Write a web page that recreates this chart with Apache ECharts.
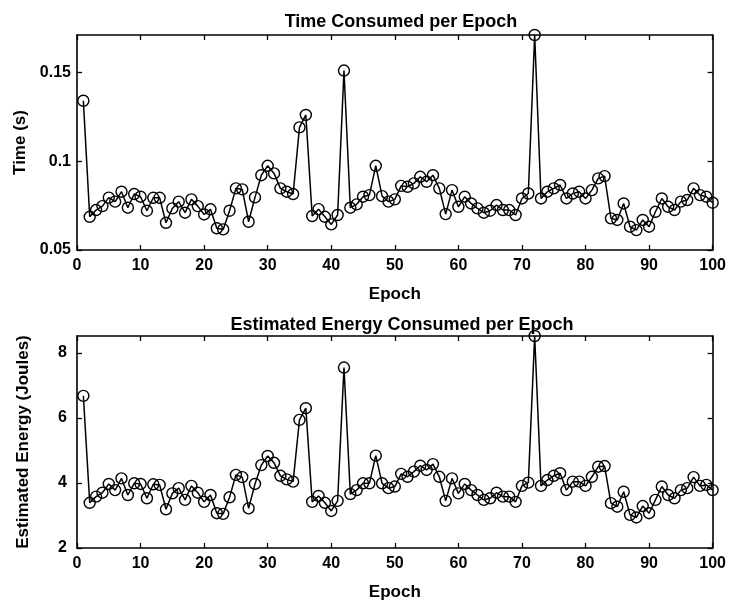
<!DOCTYPE html>
<html>
<head>
<meta charset="utf-8">
<script src="https://cdn.jsdelivr.net/npm/echarts@6/dist/echarts.min.js"></script>
<style>html,body{margin:0;padding:0;background:#fff}#c{width:729px;height:604px}</style>
</head>
<body>
<div id="c"></div>
<script>
const epochs = Array.from({length: 100}, (_, i) => i + 1);
const timeValues = [
  0.134, 0.0687, 0.0725, 0.0747, 0.0795, 0.0772, 0.0828, 0.0738, 0.0815, 0.080,
  0.0721, 0.0794, 0.0794, 0.0653, 0.0734, 0.0772, 0.071, 0.0785, 0.0747, 0.070,
  0.0729, 0.0622, 0.0616, 0.0721, 0.0847, 0.0841, 0.0659, 0.0796, 0.0921, 0.0974,
  0.0931, 0.0847, 0.0828, 0.0815, 0.119, 0.126, 0.0691, 0.073, 0.0687, 0.0644,
  0.0697, 0.151, 0.0738, 0.0757, 0.080, 0.0809, 0.0974, 0.0803, 0.0772, 0.0785,
  0.0861, 0.0856, 0.0875, 0.0912, 0.0884, 0.0921, 0.0847, 0.0702, 0.0837, 0.0743,
  0.080, 0.0762, 0.0734, 0.071, 0.0721, 0.0753, 0.0725, 0.0725, 0.0697, 0.079,
  0.0818, 0.171, 0.079, 0.0828, 0.0847, 0.0866, 0.079, 0.0818, 0.0828, 0.079,
  0.0837, 0.0903, 0.0916, 0.0678, 0.0669, 0.0762, 0.0631, 0.0612, 0.0669, 0.0631,
  0.0715, 0.079, 0.0743, 0.0725, 0.0772, 0.0781, 0.0847, 0.0809, 0.080, 0.0766
];
const energyValues = [
  6.68, 3.39, 3.58, 3.70, 3.97, 3.78, 4.14, 3.63, 3.99, 3.97,
  3.53, 3.96, 3.94, 3.19, 3.68, 3.84, 3.48, 3.91, 3.70, 3.42,
  3.63, 3.07, 3.05, 3.56, 4.25, 4.18, 3.22, 3.97, 4.55, 4.83,
  4.62, 4.22, 4.11, 4.04, 5.94, 6.30, 3.42, 3.60, 3.39, 3.14,
  3.45, 7.55, 3.66, 3.78, 3.99, 3.99, 4.84, 3.99, 3.84, 3.89,
  4.28, 4.19, 4.35, 4.53, 4.40, 4.58, 4.19, 3.45, 4.14, 3.68,
  3.97, 3.78, 3.63, 3.48, 3.53, 3.70, 3.58, 3.58, 3.42, 3.91,
  4.01, 8.52, 3.91, 4.09, 4.22, 4.30, 3.78, 4.04, 4.04, 3.91,
  4.19, 4.50, 4.52, 3.38, 3.27, 3.73, 3.02, 2.94, 3.29, 3.07,
  3.48, 3.89, 3.63, 3.53, 3.78, 3.84, 4.18, 3.91, 3.94, 3.78
];
const xTicks = [0, 10, 20, 30, 40, 50, 60, 70, 80, 90, 100];
const timeTicks = [0.05, 0.1, 0.15];
const energyTicks = [2, 4, 6, 8];

const FONT = 'Liberation Sans, Arial, sans-serif';
const lineCol = '#000';

function xAx(grid, pos, labels) {
  return {
    type: 'value', gridIndex: grid, position: pos, min: 0, max: 100, interval: 10,
    axisLine: {show: true, onZero: false, lineStyle: {color: lineCol, width: 1.6}},
    axisTick: {show: true, inside: true, length: 5, lineStyle: {color: lineCol, width: 1.3}},
    axisLabel: {show: labels, color: '#000', fontFamily: FONT, fontSize: 16, fontWeight: 'bold', margin: 8,
      formatter: v => xTicks.includes(v) ? String(v) : ''},
    splitLine: {show: false},
    name: labels ? 'Epoch' : '', nameLocation: 'middle', nameGap: 36,
    nameTextStyle: {color: '#000', fontFamily: FONT, fontSize: 17, fontWeight: 'bold'}
  };
}
function yAx(grid, pos, labels, min, max, ticks, name, margin) {
  return {
    type: 'value', gridIndex: grid, position: pos, min: min, max: max,
    axisLine: {show: true, onZero: false, lineStyle: {color: lineCol, width: 1.6}},
    axisTick: {show: true, inside: true, length: 5, customValues: ticks, lineStyle: {color: lineCol, width: 1.3}},
    axisLabel: {show: labels, color: '#000', fontFamily: FONT, fontSize: 16, fontWeight: 'bold', margin: margin,
      customValues: ticks, formatter: v => String(+v.toFixed(4))},
    splitLine: {show: false},
    name: labels ? name : '', nameLocation: 'middle', nameGap: 45,
    nameTextStyle: {color: '#000', fontFamily: FONT, fontSize: 17, fontWeight: 'bold'}
  };
}
function ser(xi, yi, vals) {
  return {
    type: 'line', xAxisIndex: xi, yAxisIndex: yi,
    data: epochs.map((e, i) => [e, vals[i]]),
    symbol: 'circle', symbolSize: 11, showAllSymbol: true,
    lineStyle: {color: lineCol, width: 1.5},
    itemStyle: {color: 'rgba(0,0,0,0)', borderColor: lineCol, borderWidth: 1.4},
    animation: false, silent: true, clip: false
  };
}

const chart = echarts.init(document.getElementById('c'), null, {renderer: 'canvas'});
chart.setOption({
  backgroundColor: '#fff',
  animation: false,
  title: [
    {text: 'Time Consumed per Epoch', left: 396, top: 8, textAlign: 'center',
      textStyle: {fontFamily: FONT, fontSize: 18, fontWeight: 'bold', color: '#000'}},
    {text: 'Estimated Energy Consumed per Epoch', left: 397, top: 311, textAlign: 'center',
      textStyle: {fontFamily: FONT, fontSize: 18, fontWeight: 'bold', color: '#000'}}
  ],
  grid: [
    {left: 77, right: 14, top: 35, height: 215},
    {left: 77, right: 14, top: 336, height: 212}
  ],
  xAxis: [xAx(0, 'bottom', true), xAx(0, 'top', false), xAx(1, 'bottom', true), xAx(1, 'top', false)],
  yAxis: [
    yAx(0, 'left', true, 0.05, 0.171, timeTicks, 'Time (s)', 6),
    yAx(0, 'right', false, 0.05, 0.171, timeTicks, '', 6),
    yAx(1, 'left', true, 2, 8.52, energyTicks, 'Estimated Energy (Joules)', 10),
    yAx(1, 'right', false, 2, 8.52, energyTicks, '', 10)
  ],
  series: [ser(0, 0, timeValues), ser(2, 2, energyValues)]
});
</script>
</body>
</html>
